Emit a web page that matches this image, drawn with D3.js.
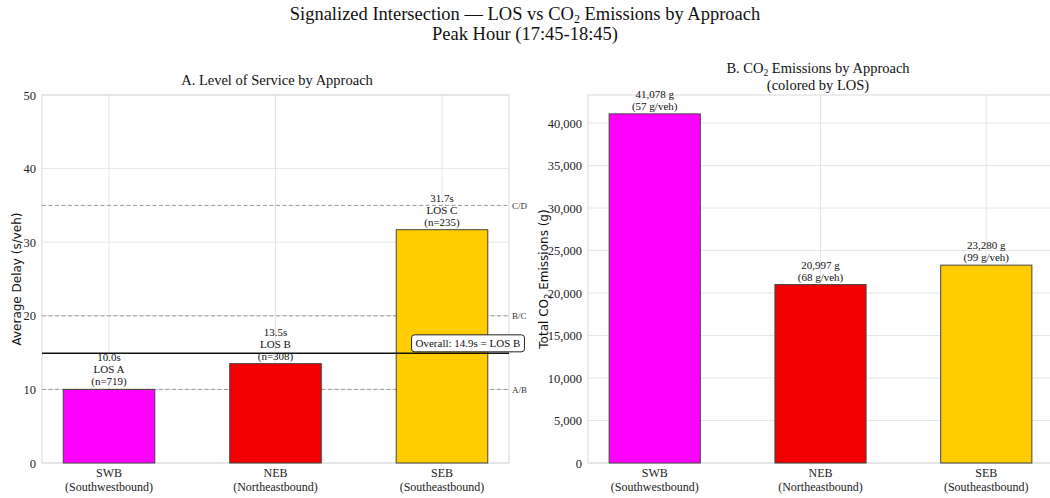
<!DOCTYPE html>
<html>
<head>
<meta charset="utf-8">
<script src="https://cdn.jsdelivr.net/npm/d3@7"></script>
<style>
  html, body { margin: 0; padding: 0; background: #fff; }
  svg { display: block; font-family: "Liberation Serif", "Times New Roman", serif; }
</style>
</head>
<body>
<svg id="chart" width="1050" height="498"></svg>
<script>
// ---- data ----
const categories = ["SWB", "NEB", "SEB"];
const categoryNames = ["(Southwestbound)", "(Northeastbound)", "(Southeastbound)"];
const delays = [10.0, 13.5, 31.7];
const losGrades = ["A", "B", "C"];
const vehicleCounts = [719, 308, 235];
const emissions = [41078, 20997, 23280];
const perVehicle = [57, 68, 99];
const barColors = ["#ff00ff", "#f20000", "#ffcc00"];
const losThresholds = [10, 20, 35];
const losThresholdLabels = ["A/B", "B/C", "C/D"];
const overallDelay = 14.9;
const overallLOS = "B";
const delayTicks = [0, 10, 20, 30, 40, 50];
const emissionTicks = [0, 5000, 10000, 15000, 20000, 25000, 30000, 35000, 40000];

const svg = d3.select("#chart");
const plotTop = 95, plotBottom = 463;
const barW = 0.55;
const gridColor = "#e6e6e6";
const frameColor = "#d9d9d9";

// Titles
svg.append("text").attr("x", 525).attr("y", 20).attr("text-anchor", "middle")
  .attr("font-size", 18.5).attr("fill", "#111")
  .call(t => {
    t.append("tspan").text("Signalized Intersection — LOS vs CO");
    t.append("tspan").attr("font-size", 12).attr("dy", 3).text("2");
    t.append("tspan").attr("dy", -3).text(" Emissions by Approach");
  });
svg.append("text").attr("x", 525).attr("y", 40).attr("text-anchor", "middle")
  .attr("font-size", 18.5).attr("fill", "#111").text("Peak Hour (17:45-18:45)");

function panel(opts) {
  const g = svg.append("g");
  const x = d3.scaleLinear().domain([-0.4025, 2.4025]).range([opts.left, opts.right]);
  const y = d3.scaleLinear().domain([0, opts.ymax]).range([plotBottom, plotTop]);
  const plotW = opts.right - opts.left;

  // horizontal grid
  g.append("g").selectAll("line").data(opts.ticks).join("line")
    .attr("x1", opts.left).attr("x2", opts.right)
    .attr("y1", d => y(d)).attr("y2", d => y(d))
    .attr("stroke", gridColor).attr("stroke-width", 1);
  // vertical grid
  g.append("g").selectAll("line").data(categories.map((c, i) => i)).join("line")
    .attr("x1", d => x(d)).attr("x2", d => x(d))
    .attr("y1", plotTop).attr("y2", plotBottom)
    .attr("stroke", gridColor).attr("stroke-width", 1);
  // frame
  g.append("rect").attr("x", opts.left).attr("y", plotTop).attr("width", plotW).attr("height", plotBottom - plotTop)
    .attr("fill", "none").attr("stroke", frameColor).attr("stroke-width", 1);

  // y axis tick labels
  const yAxis = d3.axisLeft(y).tickValues(opts.ticks).tickSize(0).tickPadding(6)
    .tickFormat(opts.fmt);
  const ya = g.append("g").attr("transform", `translate(${opts.left},0)`).call(yAxis);
  ya.select(".domain").remove();
  ya.selectAll("text").attr("font-size", 12.5).attr("fill", "#222")
    .attr("font-family", "Liberation Serif, serif");

  // x axis labels
  const xa = g.append("g").attr("transform", `translate(0,${plotBottom})`);
  categories.forEach((c, i) => {
    const t = xa.append("text").attr("x", x(i)).attr("y", 14).attr("text-anchor", "middle")
      .attr("font-size", 12).attr("fill", "#222");
    t.append("tspan").attr("x", x(i)).text(c);
    t.append("tspan").attr("x", x(i)).attr("dy", 14).text(categoryNames[i]);
  });

  return { g, x, y };
}

// ---------- Panel A ----------
const A = panel({ left: 42, right: 509, ymax: 50, ticks: delayTicks, fmt: d3.format("d") });

// LOS threshold dashed lines (behind bars)
A.g.append("g").selectAll("line").data(losThresholds).join("line")
  .attr("x1", 42).attr("x2", 509)
  .attr("y1", d => A.y(d)).attr("y2", d => A.y(d))
  .attr("stroke", "#999").attr("stroke-width", 1).attr("stroke-dasharray", "4,2.5");
A.g.append("g").selectAll("text").data(losThresholds).join("text")
  .attr("x", 512).attr("y", d => A.y(d)).attr("dy", "0.35em")
  .attr("font-size", 9).attr("fill", "#333")
  .text((d, i) => losThresholdLabels[i]);

// bars
A.g.append("g").selectAll("rect").data(delays).join("rect")
  .attr("x", (d, i) => A.x(i - barW / 2))
  .attr("width", (d, i) => A.x(i + barW / 2) - A.x(i - barW / 2))
  .attr("y", d => A.y(d)).attr("height", d => A.y(0) - A.y(d))
  .attr("fill", (d, i) => barColors[i]).attr("stroke", "#444").attr("stroke-width", 1);

// bar annotations
delays.forEach((d, i) => {
  const lines = [d.toFixed(1) + "s", "LOS " + losGrades[i], "(n=" + vehicleCounts[i] + ")"];
  const base = A.y(d) - 4;
  lines.forEach((s, k) => {
    A.g.append("text").attr("x", A.x(i)).attr("y", base - (lines.length - 1 - k) * 12)
      .attr("text-anchor", "middle").attr("font-size", 11).attr("fill", "#111").text(s);
  });
});

// overall line
A.g.append("line").attr("x1", 42).attr("x2", 509)
  .attr("y1", A.y(overallDelay)).attr("y2", A.y(overallDelay))
  .attr("stroke", "#111").attr("stroke-width", 1.5);
// overall box
const boxText = `Overall: ${overallDelay.toFixed(1)}s = LOS ${overallLOS}`;
const bx = A.g.append("g");
const bt = bx.append("text").attr("x", 468).attr("y", A.y(overallDelay) - 6)
  .attr("text-anchor", "middle").attr("font-size", 11).attr("fill", "#111").text(boxText);
const bb = bt.node().getBBox();
bx.insert("rect", "text").attr("x", bb.x - 4).attr("y", bb.y - 2.5)
  .attr("width", bb.width + 8).attr("height", bb.height + 5)
  .attr("rx", 3).attr("fill", "#fff").attr("stroke", "#222").attr("stroke-width", 1);

// title
A.g.append("text").attr("x", 277).attr("y", 85).attr("text-anchor", "middle")
  .attr("font-size", 14.5).attr("fill", "#111").text("A. Level of Service by Approach");
// y label
A.g.append("text").attr("transform", `translate(21,${(plotTop + plotBottom) / 2}) rotate(-90)`)
  .attr("text-anchor", "middle").attr("font-size", 12).attr("fill", "#111")
  .attr("font-family", "DejaVu Sans, sans-serif")
  .text("Average Delay (s/veh)");

// ---------- Panel B ----------
const B = panel({ left: 588, right: 1053, ymax: 43300, ticks: emissionTicks, fmt: d3.format(",") });

B.g.append("g").selectAll("rect").data(emissions).join("rect")
  .attr("x", (d, i) => B.x(i - barW / 2))
  .attr("width", (d, i) => B.x(i + barW / 2) - B.x(i - barW / 2))
  .attr("y", d => B.y(d)).attr("height", d => B.y(0) - B.y(d))
  .attr("fill", (d, i) => barColors[i]).attr("stroke", "#444").attr("stroke-width", 1);

emissions.forEach((d, i) => {
  const lines = [d3.format(",")(d) + " g", "(" + perVehicle[i] + " g/veh)"];
  const base = B.y(d) - 4;
  lines.forEach((s, k) => {
    B.g.append("text").attr("x", B.x(i)).attr("y", base - (lines.length - 1 - k) * 12)
      .attr("text-anchor", "middle").attr("font-size", 11).attr("fill", "#111").text(s);
  });
});

// title
B.g.append("text").attr("x", 818).attr("y", 73).attr("text-anchor", "middle")
  .attr("font-size", 14.5).attr("fill", "#111")
  .call(t => {
    t.append("tspan").text("B. CO");
    t.append("tspan").attr("font-size", 9.5).attr("dy", 3).text("2");
    t.append("tspan").attr("dy", -3).text(" Emissions by Approach");
  });
B.g.append("text").attr("x", 818).attr("y", 90).attr("text-anchor", "middle")
  .attr("font-size", 14.5).attr("fill", "#111").text("(colored by LOS)");
// y label
B.g.append("text").attr("transform", `translate(548,${(plotTop + plotBottom) / 2}) rotate(-90)`)
  .attr("text-anchor", "middle").attr("font-size", 12).attr("fill", "#111")
  .attr("font-family", "DejaVu Sans, sans-serif")
  .call(t => {
    t.append("tspan").text("Total CO");
    t.append("tspan").attr("font-size", 8.5).attr("dy", 3).text("2");
    t.append("tspan").attr("dy", -3).text(" Emissions (g)");
  });
</script>
</body>
</html>
